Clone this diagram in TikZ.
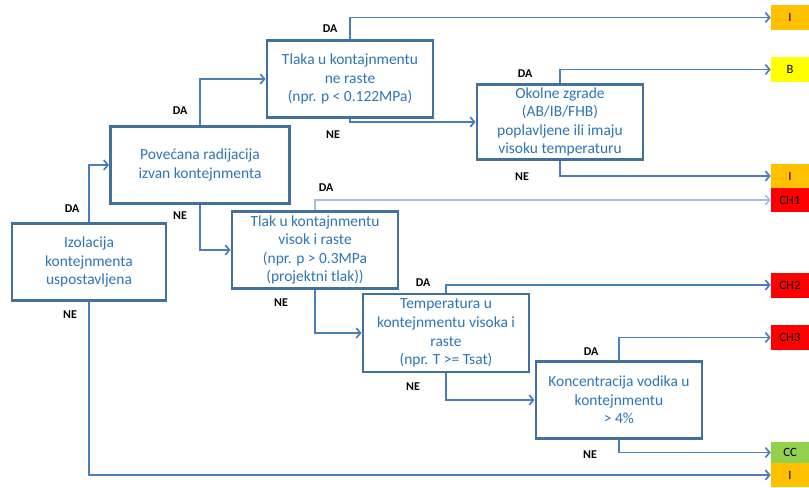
\documentclass[tikz,border=0pt]{standalone}
\usepackage{fontspec}
\setmainfont{Carlito}
\usetikzlibrary{arrows.meta}
\definecolor{boxline}{HTML}{41719C}
\definecolor{boxtext}{HTML}{2E75B6}
\definecolor{conn}{HTML}{4A7EBB}
\definecolor{connlight}{HTML}{A3BEE0}
\definecolor{outI}{HTML}{FFC000}
\definecolor{outB}{HTML}{FFFF00}
\definecolor{outCH}{HTML}{FF0000}
\definecolor{outCC}{HTML}{92D050}
\begin{document}
\begin{tikzpicture}[x=0.025cm,y=-0.025cm,
  cond/.style={draw=boxline,line width=2pt,fill=white,align=center,text=boxtext,
    font=\fontsize{11}{13.2}\selectfont,minimum width=4.15cm,minimum height=1.925cm,inner sep=1pt},
  endbox/.style={minimum width=0.95cm,minimum height=0.625cm,inner sep=0pt,
    font=\fontsize{9}{10}\selectfont},
  lbl/.style={font=\fontsize{8.5}{10}\selectfont\bfseries},
  arr/.style={draw=conn,line width=1.2pt,-{Straight Barb[length=3pt,width=7pt]}}]
  \useasboundingbox (0,0) rectangle (809,487);
  \node[cond,minimum width=3.85cm] (iso) at (89,262) {Izolacija\\kontejnmenta\\uspostavljena};
  \node[cond,minimum width=4.475cm] (rad) at (200,165) {Povećana radijacija\\izvan kontejnmenta};
  \node[cond] (tlaka) at (350,79) {Tlaka u kontajnmentu\\ne raste\\(npr. p < 0.122MPa)};
  \node[cond,minimum height=1.875cm] (okolne) at (560,122) {Okolne zgrade\\(AB/IB/FHB)\\poplavljene ili imaju\\visoku temperaturu};
  \node[cond] (tlak) at (315,250) {Tlak u kontajnmentu\\visok i raste\\(npr. p > 0.3MPa\\(projektni tlak))};
  \node[cond,minimum height=1.95cm] (temp) at (446,333) {Temperatura u\\kontejnmentu visoka i\\raste\\(npr. T >= Tsat)};
  \node[cond] (konc) at (619,400) {Koncentracija vodika u\\kontejnmentu\\> 4\%};
  \node[endbox,fill=outI] (resI1) at (790,17.5) {I};
  \node[endbox,fill=outB] (resB) at (790,69.5) {B};
  \node[endbox,fill=outI,minimum height=0.6cm] (resI2) at (790,176) {I};
  \node[endbox,fill=outCH,minimum height=0.6cm] (resCH1) at (790,200) {CH1};
  \node[endbox,fill=outCH] (resCH2) at (790,285) {CH2};
  \node[endbox,fill=outCH] (resCH3) at (790,337.5) {CH3};
  \node[endbox,fill=outCC,minimum height=0.525cm] (resCC) at (790,452.5) {CC};
  \node[endbox,fill=outI,minimum height=0.6cm] (resI3) at (790,475) {I};
  \draw[arr] (iso.north) |- (rad.west);
  \draw[arr] (iso.south) |- (resI3.west);
  \draw[arr] (rad.north) |- (tlaka.west);
  \draw[arr] (rad.south) |- (tlak.west);
  \draw[arr] (tlaka.north) |- (resI1.west);
  \draw[arr] (tlaka.south) |- (okolne.west);
  \draw[arr] (okolne.north) |- (resB.west);
  \draw[arr] (okolne.south) |- (resI2.west);
  \draw[arr,draw=connlight] (tlak.north) |- (resCH1.west);
  \draw[arr] (tlak.south) |- (temp.west);
  \draw[arr] (temp.north) |- (resCH2.west);
  \draw[arr] (temp.south) |- (konc.west);
  \draw[arr] (konc.north) |- (resCH3.west);
  \draw[arr] (konc.south) |- (resCC.west);
  \node[lbl] (daIso) at (72,209) {DA};
  \node[lbl] (neIso) at (70,315) {NE};
  \node[lbl] (daRad) at (180,111) {DA};
  \node[lbl] (neRad) at (180,216) {NE};
  \node[lbl] (daTlaka) at (330,29) {DA};
  \node[lbl] (neTlaka) at (333,135) {NE};
  \node[lbl] (daOkolne) at (525,74) {DA};
  \node[lbl] (neOkolne) at (522,177) {NE};
  \node[lbl] (daTlak) at (326,188) {DA};
  \node[lbl] (neTlak) at (281,303) {NE};
  \node[lbl] (daTemp) at (423,283) {DA};
  \node[lbl] (neTemp) at (413,387) {NE};
  \node[lbl] (daKonc) at (591,352) {DA};
  \node[lbl] (neKonc) at (590,455) {NE};
\end{tikzpicture}
\end{document}
